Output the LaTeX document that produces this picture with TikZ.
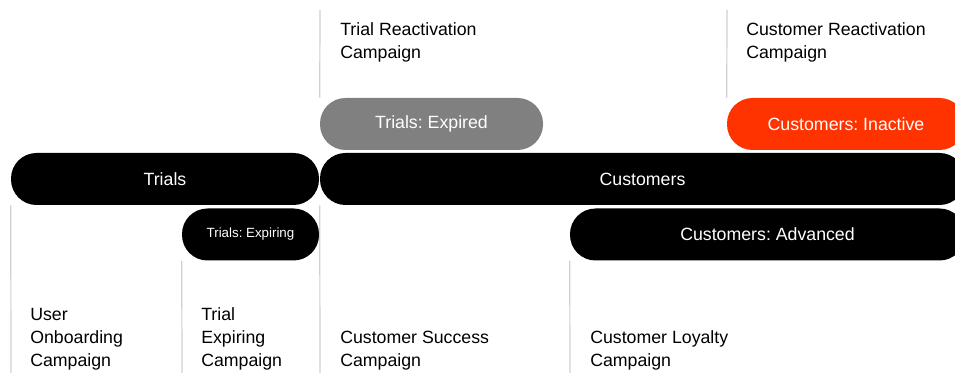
\documentclass[tikz,border=0pt]{standalone}
\usepackage{fontspec}
\setmainfont{Liberation Sans}
\frenchspacing

\definecolor{expiredgray}{HTML}{808080}
\definecolor{inactivered}{HTML}{FF3300}
\definecolor{guidegray}{HTML}{D0D0D0}

\tikzset{
  bar/.style={rectangle, minimum height=52*0.75pt, rounded corners=25.5*0.75pt,
    inner sep=0pt, text=white, font=\fontsize{13.3}{16}\selectfont},
  campaign/.style={anchor=base west, inner sep=0pt, align=left,
    font=\fontsize{13.3}{17.6}\selectfont},
  guide/.style={guidegray, line width=0.9pt}
}

\begin{document}
\begin{tikzpicture}[x=0.75pt, y=-0.75pt]

\clip (0,0) rectangle (955,373);

% segment bars
\node[bar, fill=black, minimum width=308*0.75pt] (trials) at (165,179) {Trials};
\node[bar, fill=black, minimum width=645*0.75pt] (customers) at (642.5,179) {Customers};
\node[bar, fill=expiredgray, minimum width=223*0.75pt] (expired) at (431.5,124) {Trials: Expired};
\node[bar, fill=inactivered, minimum width=238*0.75pt] (inactive) at (846,124) {Customers: Inactive};
\node[bar, fill=black, minimum width=137*0.75pt, font=\fontsize{10}{12}\selectfont] (expiring) at (250.5,234.5) {Trials: Expiring};
\node[bar, fill=black, minimum width=395*0.75pt] (advanced) at (767.5,234.5) {Customers: Advanced};

% guide lines
\draw[guide] (trials.south west) -- (11,373);
\draw[guide] (expiring.south west) -- (182,373);
\draw[guide] (320,10) -- (expired.north west);
\draw[guide] (customers.south west) -- (320,373);
\draw[guide] (advanced.south west) -- (570,373);
\draw[guide] (727,10) -- (inactive.north west);

% campaigns (anchored on the last line)
\node[campaign] (reacttrial) at (340,58.5) {Trial Reactivation\\Campaign};
\node[campaign] (reactcust) at (746,58.5) {Customer Reactivation\\Campaign};
\node[campaign] (onboarding) at (30,367) {User\\Onboarding\\Campaign};
\node[campaign] (trialexp) at (201,367) {Trial\\Expiring\\Campaign};
\node[campaign] (success) at (340,367) {Customer Success\\Campaign};
\node[campaign] (loyalty) at (590,367) {Customer Loyalty\\Campaign};

\end{tikzpicture}
\end{document}
